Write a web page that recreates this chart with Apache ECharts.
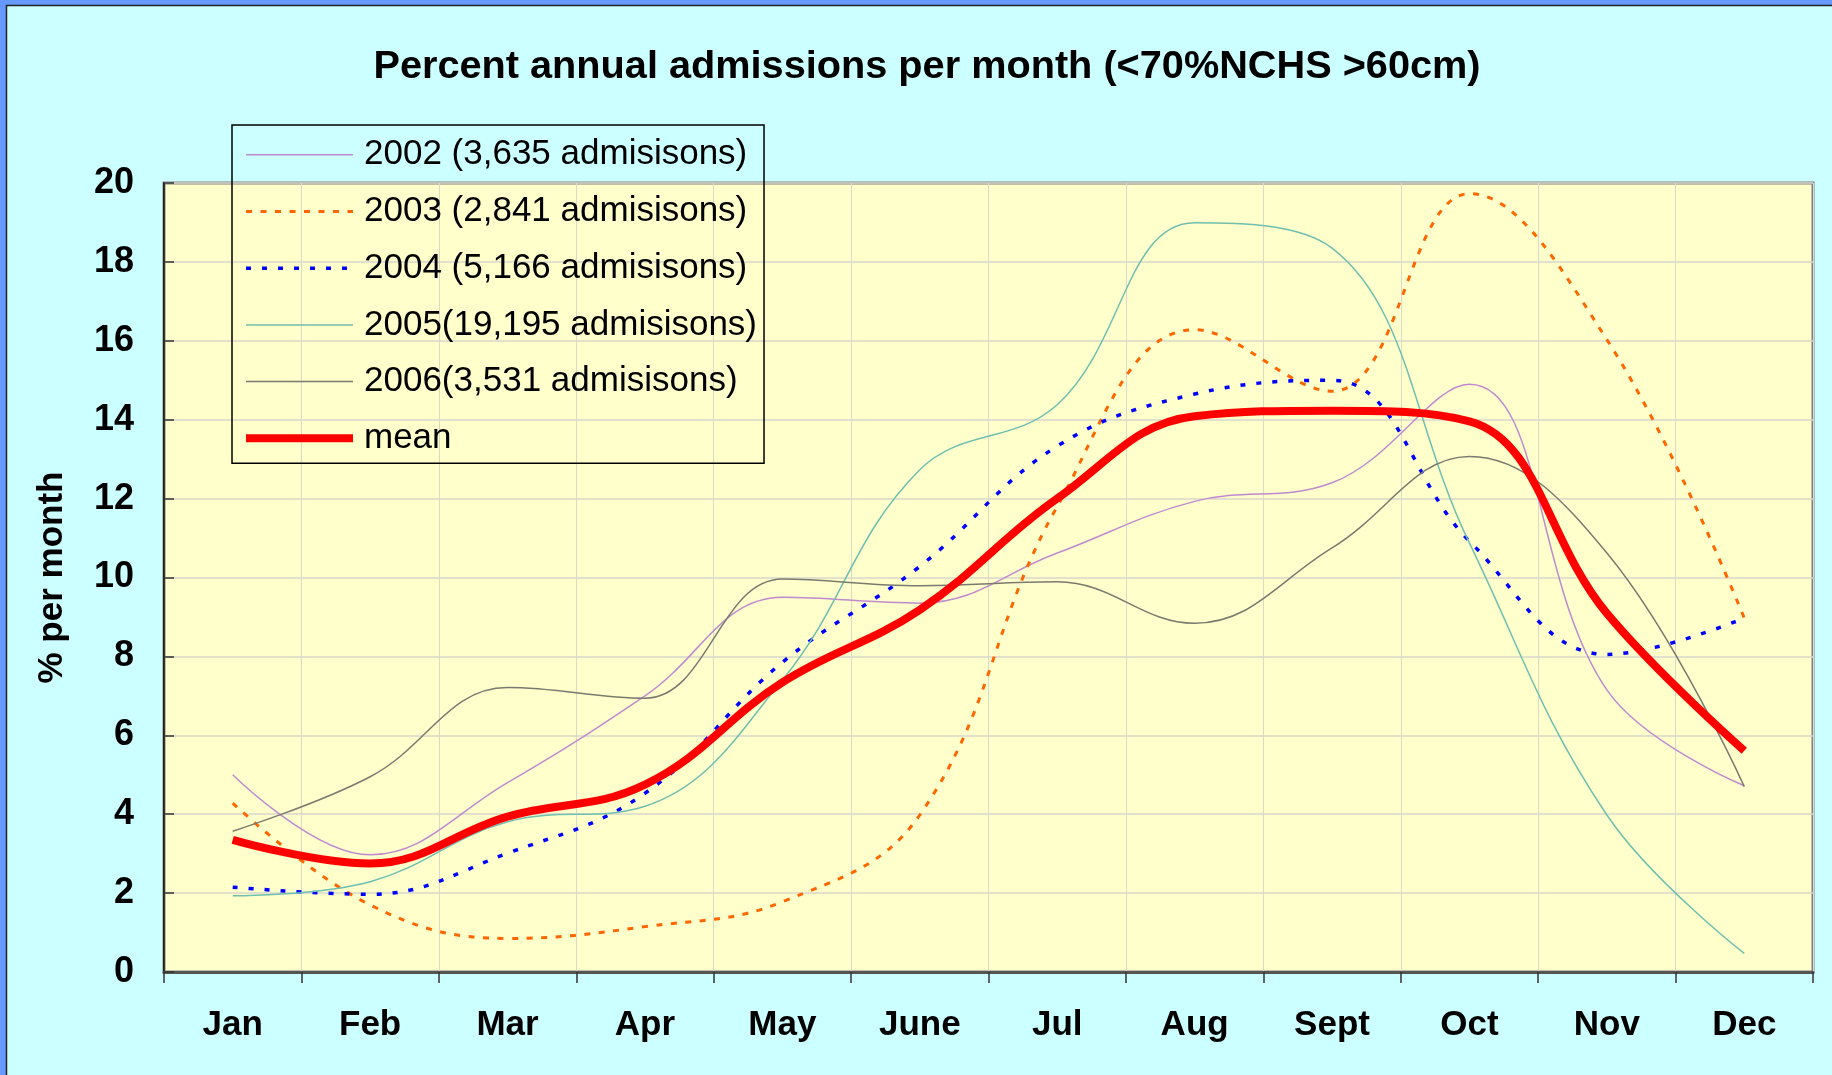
<!DOCTYPE html>
<html>
<head>
<meta charset="utf-8">
<title>Percent annual admissions per month</title>
<script src="https://cdn.jsdelivr.net/npm/echarts/dist/echarts.min.js"></script>
<style>
  html, body { margin: 0; padding: 0; background: #CCFFFF; }
  #chart { width: 1832px; height: 1075px; }
</style>
</head>
<body>
<div id="chart"></div>
<script>
// data (% of the year's admissions in each month)
const months = ["Jan", "Feb", "Mar", "Apr", "May", "June", "Jul", "Aug", "Sept", "Oct", "Nov", "Dec"];
const yTicks = [0, 20, 2]; // min, max, step
const y2002 = [5.0, 2.97, 4.8, 7.0, 9.5, 9.35, 10.62, 11.93, 12.4, 14.9, 7.15, 4.72];
const y2003 = [4.28, 1.7, 0.85, 1.15, 1.78, 3.98, 11.8, 16.28, 14.72, 19.73, 16.03, 8.97];
const y2004 = [2.15, 1.97, 3.01, 4.53, 7.85, 10.28, 13.33, 14.65, 15.0, 10.92, 8.05, 8.97];
const y2005 = [1.93, 2.29, 3.81, 4.2, 7.4, 12.73, 14.38, 18.99, 18.35, 10.87, 3.98, 0.47];
const y2006 = [3.57, 4.95, 7.21, 6.94, 9.96, 9.79, 9.89, 8.84, 10.75, 13.07, 10.62, 4.7];
const meanVals = [3.35, 2.75, 3.94, 4.75, 7.34, 9.18, 12.0, 14.09, 14.23, 13.96, 9.09, 5.61];
const names = [
  "2002 (3,635 admisisons)",
  "2003 (2,841 admisisons)",
  "2004 (5,166 admisisons)",
  "2005(19,195 admisisons)",
  "2006(3,531 admisisons)",
  "mean",
];

const font = "Liberation Sans, Arial, sans-serif";
const SMOOTH = 0.4;

let myChart = echarts.init(document.getElementById("chart"));

let option = {
  animation: false,
  backgroundColor: "#CCFFFF",
  // blue slide border on the top and left edge
  graphic: [
    { type: "rect", shape: { x: 0, y: 0, width: 1832, height: 5 }, style: { fill: "#6699FF" } },
    { type: "rect", shape: { x: 0, y: 0, width: 6, height: 1075 }, style: { fill: "#6699FF" } },
    { type: "line", shape: { x1: 6, y1: 5.5, x2: 1832, y2: 5.5 }, style: { stroke: "#222", lineWidth: 1.5 } },
    { type: "line", shape: { x1: 6.5, y1: 5, x2: 6.5, y2: 1075 }, style: { stroke: "#222", lineWidth: 1.5 } },
  ],
  title: {
    text: "Percent annual admissions per month (<70%NCHS >60cm)",
    left: 927,
    top: 47,
    textAlign: "center",
    padding: 0,
    textStyle: {
      fontFamily: font,
      fontSize: 39.7,
      fontWeight: "bold",
      color: "#000",
    },
  },
  legend: {
    data: names,
    orient: "vertical",
    left: 232,
    top: 125,
    padding: [12.3, 7, 7.5, 10],
    itemWidth: 107,
    itemHeight: 10,
    itemGap: 21.7,
    borderColor: "#000",
    borderWidth: 1.5,
    backgroundColor: "transparent",
    itemStyle: { opacity: 0 },
    lineStyle: { width: "inherit" },
    textStyle: {
      fontFamily: font,
      fontSize: 35,
      color: "#000",
      padding: [0, 0, 0, 6],
    },
  },
  grid: {
    left: 164,
    right: 19,
    top: 183,
    bottom: 103,
    show: true,
    backgroundColor: "#FFFFCC",
    borderColor: "#808080",
    borderWidth: 3,
    outerBoundsMode: "none",
  },
  xAxis: {
    type: "category",
    data: months,
    boundaryGap: true,
    axisLine: { lineStyle: { color: "#555", width: 3 } },
    axisTick: { show: true, length: 11, lineStyle: { color: "#333", width: 1.5 } },
    axisLabel: {
      color: "#000",
      fontFamily: font,
      fontSize: 35,
      fontWeight: "bold",
      margin: 36,
      interval: 0,
    },
    splitLine: { show: true, lineStyle: { color: "#D8D8CC", width: 1 } },
  },
  yAxis: {
    type: "value",
    min: yTicks[0],
    max: yTicks[1],
    interval: yTicks[2],
    name: "% per month",
    nameLocation: "middle",
    nameRotate: 90,
    nameGap: 94,
    nameTextStyle: {
      fontFamily: font,
      fontSize: 35,
      fontWeight: "bold",
      color: "#000",
    },
    axisLine: { show: true, lineStyle: { color: "#000", width: 1.5 } },
    axisTick: { show: true, inside: true, length: 10, lineStyle: { color: "#333", width: 1.5 } },
    axisLabel: {
      color: "#000",
      fontFamily: font,
      fontSize: 36,
      fontWeight: "bold",
      margin: 30,
      padding: [3, 0, 0, 0],
    },
    splitLine: { show: true, lineStyle: { color: "#D8D8CC", width: 1.5 } },
  },
  series: [
    {
      name: names[0],
      type: "line",
      data: y2002,
      smooth: SMOOTH,
      symbol: "none",
      itemStyle: { color: "#C08AD0" },
      lineStyle: { color: "#C08AD0", width: 1.5 },
    },
    {
      name: names[1],
      type: "line",
      data: y2003,
      smooth: SMOOTH,
      symbol: "none",
      itemStyle: { color: "#FF6600" },
      lineStyle: { color: "#FF6600", width: 3, type: [6, 8.5], cap: "butt" },
    },
    {
      name: names[2],
      type: "line",
      data: y2004,
      smooth: SMOOTH,
      symbol: "none",
      itemStyle: { color: "#0000FF" },
      lineStyle: { color: "#0000FF", width: 3.5, type: [5, 11], cap: "butt" },
    },
    {
      name: names[3],
      type: "line",
      data: y2005,
      smooth: SMOOTH,
      symbol: "none",
      itemStyle: { color: "#6FBFB0" },
      lineStyle: { color: "#6FBFB0", width: 1.5 },
    },
    {
      name: names[4],
      type: "line",
      data: y2006,
      smooth: SMOOTH,
      symbol: "none",
      itemStyle: { color: "#7A7A70" },
      lineStyle: { color: "#7A7A70", width: 1.5 },
    },
    {
      name: names[5],
      type: "line",
      data: meanVals,
      smooth: SMOOTH,
      symbol: "none",
      itemStyle: { color: "#FF0000" },
      lineStyle: { color: "#FF0000", width: 8 },
    },
  ],
};

myChart.setOption(option);
</script>
</body>
</html>
